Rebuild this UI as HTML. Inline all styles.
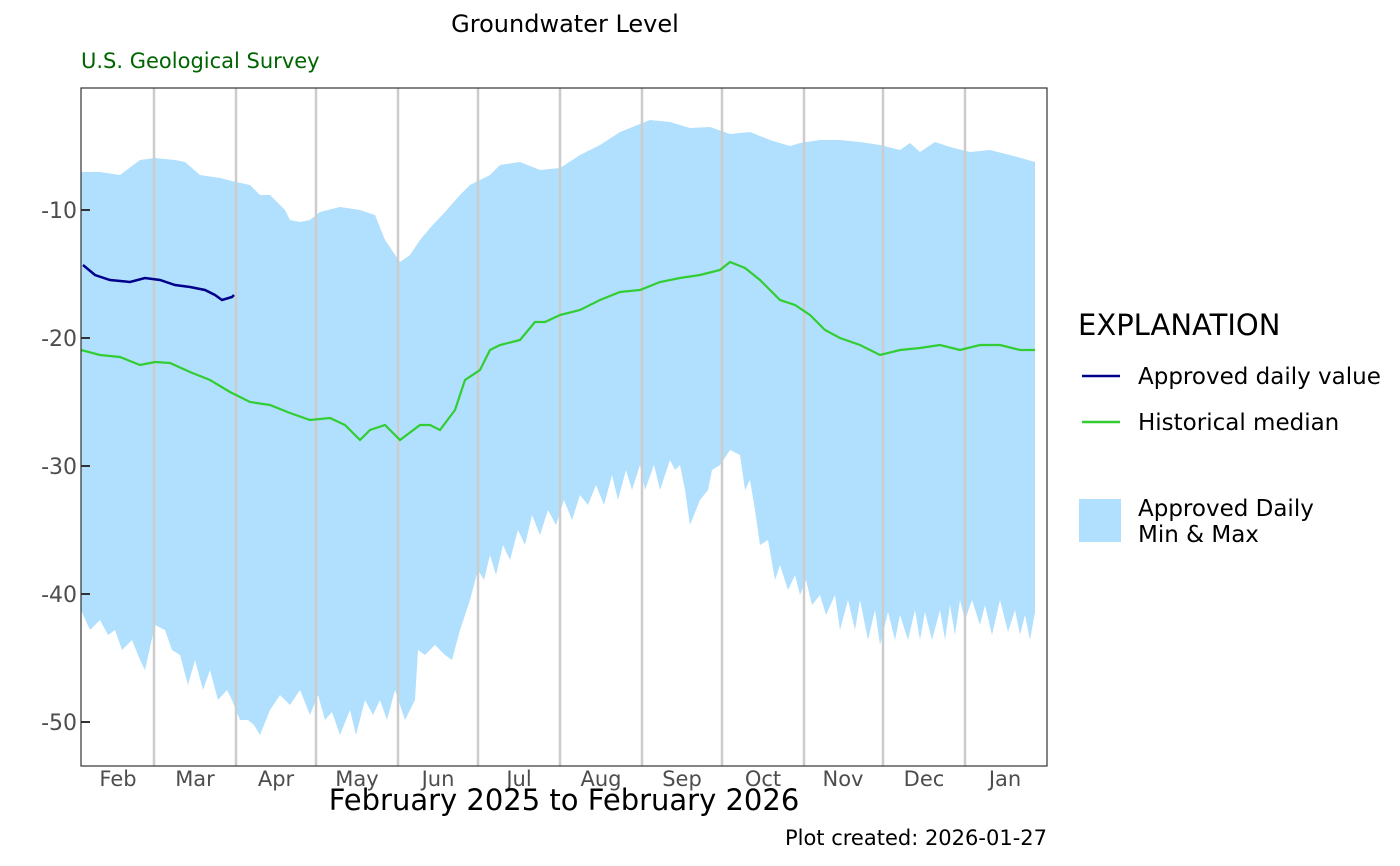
<!DOCTYPE html>
<html><head><meta charset="utf-8"><style>
body{margin:0;background:#fff;}
svg{display:block;font-family:"DejaVu Sans","Liberation Sans",sans-serif;}
</style></head><body>
<svg width="1400" height="866" viewBox="0 0 1400 866" xmlns="http://www.w3.org/2000/svg">
<rect width="1400" height="866" fill="#fff"/>
<text x="565" y="32" font-size="24" text-anchor="middle" fill="#000">Groundwater Level</text>
<text x="81" y="68" font-size="21" fill="#006400">U.S. Geological Survey</text>
<defs><clipPath id="c"><rect x="81" y="88" width="966" height="678"/></clipPath></defs>
<g clip-path="url(#c)">
<polygon fill="#b0e0fd" points="81,172 100,172 120,175 140,160 155,158 175,160 185,162 200,175 220,178 236,182 250,185 260,195 270,195 285,210 290,220 300,222 310,220 320,212 340,207 360,210 375,215 385,240 400,262 410,255 420,240 430,228 445,212 460,195 470,185 490,175 500,165 520,162 540,170 560,168 580,155 600,145 620,132 640,124 650,120 670,122 690,128 710,127 730,134 750,132 770,140 790,146 800,143 820,140 840,140 860,142 880,145 900,150 910,143 920,152 935,142 950,147 970,152 990,150 1010,155 1035,162 1035,612 1030,640 1025,615 1020,635 1015,610 1008,632 1000,600 992,635 985,605 980,625 972,600 965,620 960,600 955,635 950,605 945,640 940,610 932,640 925,612 920,640 915,610 908,640 900,615 895,640 888,612 880,645 875,610 868,640 860,600 855,630 848,600 840,630 835,595 826,615 820,595 812,605 806,580 800,595 795,575 788,590 780,565 775,580 768,540 760,545 755,510 750,480 745,490 740,455 730,450 720,465 712,470 708,490 700,500 690,525 685,490 680,465 675,470 670,460 660,490 654,465 645,490 640,465 632,490 626,470 618,500 612,475 604,505 596,485 588,505 580,495 572,520 564,500 556,525 548,510 540,535 532,515 525,545 518,530 510,560 503,545 496,575 490,555 484,580 478,570 470,600 460,630 452,660 445,655 435,645 425,655 418,650 415,700 405,720 395,690 387,720 380,700 373,715 365,700 356,735 350,710 340,735 332,712 325,720 318,695 310,715 300,690 290,705 280,695 270,710 260,735 254,725 248,720 240,720 232,700 227,690 218,700 210,670 203,690 195,660 188,685 180,655 172,650 165,630 155,625 145,670 140,660 132,640 122,650 115,630 108,635 100,620 90,630 81,610"/>
<g stroke="#cccccc" stroke-width="2.5">
<line x1="154" y1="88" x2="154" y2="766"/><line x1="236" y1="88" x2="236" y2="766"/><line x1="316" y1="88" x2="316" y2="766"/><line x1="398" y1="88" x2="398" y2="766"/><line x1="478" y1="88" x2="478" y2="766"/><line x1="560" y1="88" x2="560" y2="766"/><line x1="642" y1="88" x2="642" y2="766"/><line x1="722" y1="88" x2="722" y2="766"/><line x1="804" y1="88" x2="804" y2="766"/><line x1="883" y1="88" x2="883" y2="766"/><line x1="965" y1="88" x2="965" y2="766"/>
</g>
<polyline fill="none" stroke="#32cd32" stroke-width="2.2" points="81,350 100,355 120,357 140,365 155,362 170,363 190,372 210,380 230,392 250,402 270,405 290,413 310,420 330,418 345,425 360,440 370,430 385,425 400,440 420,425 430,425 440,430 455,410 465,380 480,370 490,350 500,345 520,340 535,322 545,322 560,315 580,310 600,300 620,292 640,290 660,282 680,278 700,275 720,270 730,262 745,268 760,280 780,300 795,305 810,315 825,330 840,338 860,345 880,355 900,350 920,348 940,345 960,350 980,345 1000,345 1020,350 1035,350"/>
<polyline fill="none" stroke="#00008b" stroke-width="2.5" points="83,265 95,275 110,280 130,282 145,278 160,280 175,285 190,287 205,290 215,295 222,300 232,297 234,295"/>
</g>
<rect x="81" y="88" width="966" height="678" fill="none" stroke="#333" stroke-width="1.2"/>
<g stroke="#333" stroke-width="2">
<line x1="81" y1="210" x2="90" y2="210"/><line x1="81" y1="338" x2="90" y2="338"/><line x1="81" y1="466" x2="90" y2="466"/><line x1="81" y1="594" x2="90" y2="594"/><line x1="81" y1="722" x2="90" y2="722"/>
</g>
<g font-size="22" fill="#4d4d4d" text-anchor="end">
<text x="77" y="218">-10</text><text x="77" y="346">-20</text><text x="77" y="474">-30</text><text x="77" y="602">-40</text><text x="77" y="730">-50</text>
</g>
<g font-size="21" fill="#4d4d4d" text-anchor="middle">
<text x="118" y="786">Feb</text><text x="195" y="786">Mar</text><text x="276" y="786">Apr</text><text x="357" y="786">May</text><text x="438" y="786">Jun</text><text x="519" y="786">Jul</text><text x="601" y="786">Aug</text><text x="682" y="786">Sep</text><text x="763" y="786">Oct</text><text x="843" y="786">Nov</text><text x="924" y="786">Dec</text><text x="1005" y="786">Jan</text>
</g>
<text x="564" y="810" font-size="29" text-anchor="middle" fill="#000">February 2025 to February 2026</text>
<text x="1047" y="845" font-size="21" text-anchor="end" fill="#000">Plot created: 2026-01-27</text>
<text x="1078" y="335" font-size="29" fill="#000">EXPLANATION</text>
<line x1="1082" y1="376" x2="1120" y2="376" stroke="#00008b" stroke-width="2.5"/>
<text x="1138" y="384" font-size="23" fill="#000">Approved daily value</text>
<line x1="1082" y1="422" x2="1120" y2="422" stroke="#32cd32" stroke-width="2.5"/>
<text x="1138" y="430" font-size="23" fill="#000">Historical median</text>
<rect x="1079" y="499" width="42" height="43" fill="#b0e0fd"/>
<text x="1138" y="516" font-size="23" fill="#000">Approved Daily</text>
<text x="1138" y="542" font-size="23" fill="#000">Min &amp; Max</text>
</svg>
</body></html>
